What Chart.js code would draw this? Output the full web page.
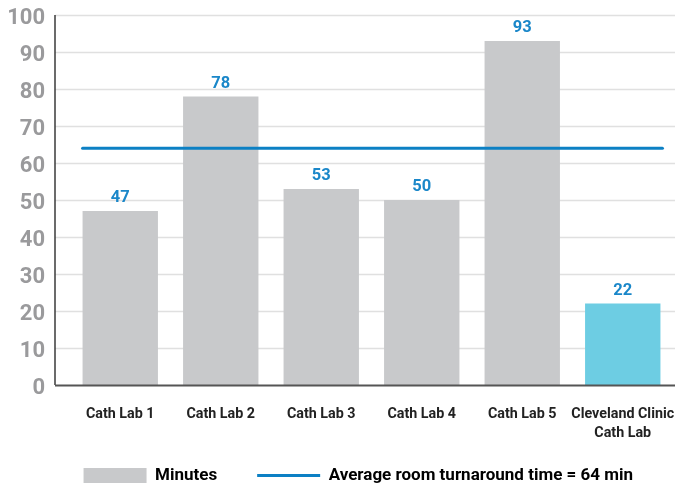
<!DOCTYPE html>
<html>
<head>
<meta charset="utf-8">
<script src="https://cdn.jsdelivr.net/npm/chart.js@4"></script>
<style>
  html, body { margin: 0; padding: 0; background: #ffffff; }
  #wrap { width: 675px; height: 486px; }
</style>
</head>
<body>
<div id="wrap"><canvas id="chart" width="675" height="486"></canvas></div>
<script>
// Room turnaround time per cath lab, in minutes
const labs = ['Cath Lab 1', 'Cath Lab 2', 'Cath Lab 3', 'Cath Lab 4', 'Cath Lab 5', ['Cleveland Clinic', 'Cath Lab']];
const minutes = [47, 78, 53, 50, 93, 22];
const averageMinutes = 64;
const yTicks = [0, 10, 20, 30, 40, 50, 60, 70, 80, 90, 100];

const GREY = '#c8c9cb';
const HIGHLIGHT = '#6dcde3';
const BLUE = '#0c80c4';
const FONT = 'Roboto, "Open Sans", sans-serif';

const barColors = minutes.map((v, i) => i === minutes.length - 1 ? HIGHLIGHT : GREY);

// Horizontal grid lines and axis lines, running past the bar area
const frame = {
  id: 'frame',
  afterLayout(chart) {
    // lift the legend row closer to the category labels
    const lg = chart.legend;
    if (lg) { lg.top -= 16; lg.bottom -= 16; }
  },
  beforeDatasetsDraw(chart) {
    const { ctx, chartArea, scales: { y } } = chart;
    const x0 = chartArea.left - 15;
    const x1 = chart.width;
    ctx.save();
    ctx.strokeStyle = '#e0e0e0';
    ctx.lineWidth = 1.5;
    yTicks.forEach(t => {
      if (t === 0) return;
      const py = Math.round(y.getPixelForValue(t)) + 0.5;
      ctx.beginPath();
      ctx.moveTo(x0, py);
      ctx.lineTo(x1, py);
      ctx.stroke();
    });
    ctx.restore();
  },
  afterDatasetsDraw(chart) {
    const { ctx, chartArea, scales: { y } } = chart;
    const x0 = chartArea.left - 15;
    ctx.save();
    // vertical axis
    ctx.strokeStyle = '#3a3a3a';
    ctx.lineWidth = 1.5;
    ctx.beginPath();
    ctx.moveTo(x0, y.getPixelForValue(100));
    ctx.lineTo(x0, y.getPixelForValue(0));
    ctx.stroke();
    // baseline
    ctx.strokeStyle = '#555555';
    ctx.lineWidth = 2;
    ctx.beginPath();
    ctx.moveTo(x0, y.getPixelForValue(0) + 0.5);
    ctx.lineTo(chart.width, y.getPixelForValue(0) + 0.5);
    ctx.stroke();

    // average line across the bars
    const bars = chart.getDatasetMeta(0).data;
    const first = bars[0], last = bars[bars.length - 1];
    const ay = y.getPixelForValue(averageMinutes);
    ctx.strokeStyle = BLUE;
    ctx.lineWidth = 3;
    ctx.lineCap = 'round';
    ctx.beginPath();
    ctx.moveTo(first.x - first.width / 2, ay);
    ctx.lineTo(last.x + last.width / 2 + 2, ay);
    ctx.stroke();

    // value labels above each bar
    ctx.fillStyle = '#1a87c9';
    ctx.font = 'bold 16.5px ' + FONT;
    ctx.textAlign = 'center';
    ctx.textBaseline = 'middle';
    bars.forEach((bar, i) => {
      ctx.fillText(String(minutes[i]), bar.x, bar.y - 13);
    });
    ctx.restore();
  }
};

new Chart(document.getElementById('chart'), {
  type: 'bar',
  data: {
    labels: labs,
    datasets: [{
      label: 'Minutes',
      data: minutes,
      backgroundColor: barColors,
      borderWidth: 0,
      barPercentage: 0.75,
      categoryPercentage: 1.0
    }]
  },
  options: {
    responsive: false,
    animation: false,
    devicePixelRatio: 1,
    layout: { padding: { left: 0, right: 2, top: 15, bottom: -24 } },
    plugins: {
      tooltip: { enabled: false },
      legend: {
        position: 'bottom',
        align: 'end',
        labels: {
          usePointStyle: true,
          pointStyleWidth: 63,
          boxHeight: 15,
          padding: 40,
          color: '#222222',
          font: { family: FONT, weight: 'bold', size: 17 },
          generateLabels() {
            return [
              { text: 'Minutes', fillStyle: GREY, strokeStyle: GREY, lineWidth: 0, pointStyle: 'rect', datasetIndex: 0 },
              { text: 'Average room turnaround time = ' + averageMinutes + ' min', fillStyle: BLUE, strokeStyle: BLUE, lineWidth: 3, pointStyle: 'line' }
            ];
          }
        }
      }
    },
    scales: {
      x: {
        grid: { display: false, drawTicks: false },
        border: { display: false },
        ticks: {
          color: '#222222',
          font: { family: FONT, weight: 'bold', size: 14.3, lineHeight: 1.33 },
          padding: 20,
          maxRotation: 0,
          autoSkip: false
        },
        afterFit(scale) { scale.height = 58; scale.paddingLeft = 0; scale.paddingRight = 0; }
      },
      y: {
        min: 0,
        max: 100,
        grid: { display: false, drawTicks: false },
        border: { display: false },
        afterBuildTicks(scale) { scale.ticks = yTicks.map(v => ({ value: v })); },
        ticks: {
          color: '#9a9a9c',
          font: { family: FONT, weight: 'bold', size: 22 },
          padding: 25,
          labelOffset: 3
        },
        afterFit(scale) { scale.width = 70; scale.paddingTop = 0; scale.paddingBottom = 0; }
      }
    }
  },
  plugins: [frame]
});
</script>
</body>
</html>
